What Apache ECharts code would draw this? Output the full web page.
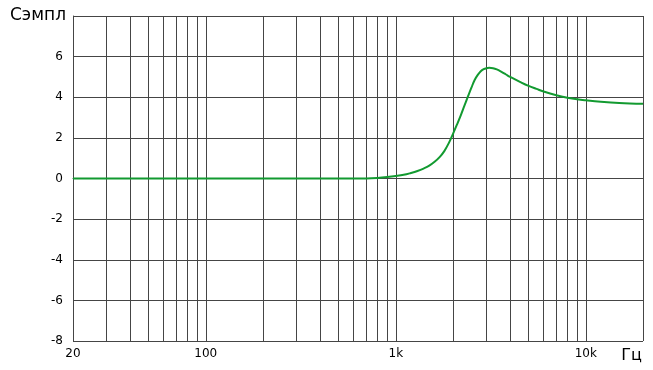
<!DOCTYPE html>
<html>
<head>
<meta charset="utf-8">
<script src="https://cdn.jsdelivr.net/npm/echarts@6/dist/echarts.min.js"></script>
<style>html,body{margin:0;padding:0;background:#fff}#c{width:653px;height:370px}</style>
</head>
<body>
<div id="c"></div>
<script>
const freqs = [20, 100, 300, 500, 600, 700, 800, 900, 1000, 1100, 1200, 1300, 1400, 1500, 1600, 1700, 1800, 1900, 2000, 2100, 2200, 2300, 2400, 2500, 2600, 2700, 2800, 2900, 3000, 3100, 3250, 3400, 3600, 3800, 4000, 4500, 5000, 5500, 6000, 7000, 8000, 9000, 10000, 12000, 15000, 20000];
const values = [0, 0, 0, 0, 0, 0.005, 0.03, 0.07, 0.12, 0.18, 0.27, 0.37, 0.49, 0.63, 0.82, 1.05, 1.35, 1.74, 2.2, 2.66, 3.12, 3.6, 4.05, 4.47, 4.85, 5.1, 5.28, 5.38, 5.43, 5.45, 5.43, 5.37, 5.25, 5.12, 5.0, 4.76, 4.56, 4.41, 4.28, 4.1, 3.98, 3.9, 3.85, 3.78, 3.72, 3.68];
const gridFreqs = [30, 40, 50, 60, 70, 80, 90, 100, 200, 300, 400, 500, 600, 700, 800, 900, 1000, 2000, 3000, 4000, 5000, 6000, 7000, 8000, 9000, 10000, 20000];
const yTicks = [-8, -6, -4, -2, 0, 2, 4, 6, 8];
const xLabels = {20: '20', 100: '100', 1000: '1k', 10000: '10k', 20000: '{u|Гц}'};
const yName = 'Сэмпл';
const lineColor = '#454545';
const chart = echarts.init(document.getElementById('c'), null, {renderer: 'canvas'});
chart.setOption({
  animation: false,
  grid: {left: 73, top: 16, right: 10, bottom: 29, containLabel: false},
  xAxis: {
    type: 'log', logBase: 10, min: 20, max: 20000,
    axisLine: {show: true, lineStyle: {color: lineColor, width: 1}},
    axisTick: {show: false},
    splitLine: {show: false},
    axisLabel: {
      show: true, showMinLabel: true, showMaxLabel: true, margin: 7,
      fontFamily: 'DejaVu Sans', fontSize: 12, color: '#000',
      formatter: function (v) { const r = Math.round(v); return xLabels[r] !== undefined ? xLabels[r] : ''; },
      rich: {u: {fontFamily: 'DejaVu Sans', fontSize: 16, color: '#000', padding: [0, 23, 4, 0]}}
    }
  },
  yAxis: {
    type: 'value', min: -8, max: 8, interval: 2,
    axisLine: {show: true, lineStyle: {color: lineColor, width: 1}},
    axisTick: {show: false},
    splitLine: {show: true, lineStyle: {color: lineColor, width: 1}},
    axisLabel: {
      margin: 10, fontFamily: 'DejaVu Sans', fontSize: 12, color: '#000',
      formatter: function (v) { return v === 8 ? '{n|' + yName + '}' : (yTicks.indexOf(v) >= 0 ? String(v) : ''); },
      rich: {n: {fontFamily: 'DejaVu Sans', fontSize: 17, color: '#000', padding: [0, -3, 0, 0]}}
    }
  },
  series: [{
    type: 'line',
    data: freqs.map((f, i) => [f, values[i]]),
    smooth: 0.4,
    showSymbol: false,
    lineStyle: {color: '#129a30', width: 2},
    z: 5,
    markLine: {
      silent: true, symbol: 'none', label: {show: false}, animation: false,
      lineStyle: {color: lineColor, width: 1, type: 'solid'},
      data: gridFreqs.map(f => ({xAxis: f}))
    }
  }]
});
</script>
</body>
</html>
